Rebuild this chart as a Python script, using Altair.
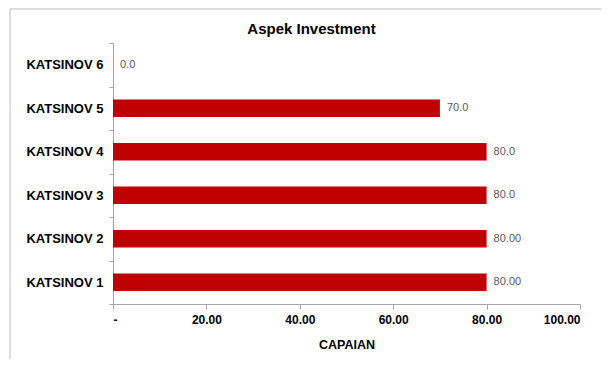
import altair as alt
import pandas as pd

categories = ["KATSINOV 6", "KATSINOV 5", "KATSINOV 4", "KATSINOV 3", "KATSINOV 2", "KATSINOV 1"]
values = [0, 70, 80, 80, 80, 80]
value_labels = ["0.0", "70.0", "80.0", "80.0", "80.00", "80.00"]
tick_values = [0, 20, 40, 60, 80, 100]
tick_labels = ["-", "20.00", "40.00", "60.00", "80.00", "100.00"]

df = pd.DataFrame({"cat": categories, "val": values, "lab": value_labels})

label_expr = " : ".join(
    [f"datum.value == {v} ? '{l}'" for v, l in zip(tick_values, tick_labels)] + ["''"]
)

FONT = "Liberation Sans"

base = alt.Chart(df).encode(
    y=alt.Y(
        "cat:N",
        sort=None,
        scale=alt.Scale(paddingInner=0, paddingOuter=0),
        axis=alt.Axis(
            title=None,
            labelFont=FONT,
            labelFontSize=13,
            labelFontWeight="bold",
            labelColor="#000000",
            labelPadding=6,
            tickSize=4,
            tickBand="extent",
            tickColor="#A6A6A6",
            domainColor="#A6A6A6",
            grid=False,
        ),
    ),
)

bars = base.mark_bar(color="#C00000", height=alt.RelativeBandSize(0.4)).encode(
    x=alt.X(
        "val:Q",
        scale=alt.Scale(domain=[0, 100], nice=False),
        axis=alt.Axis(
            title="CAPAIAN",
            titleFont=FONT,
            titleFontSize=12.5,
            titleFontWeight="bold",
            titleColor="#000000",
            titlePadding=13,
            values=tick_values,
            labelExpr=label_expr,
            labelFont=FONT,
            labelFontSize=12,
            labelFontWeight="bold",
            labelColor="#000000",
            labelPadding=5,
            tickSize=5,
            tickColor="#A6A6A6",
            domainColor="#A6A6A6",
            grid=False,
        ),
    )
)

texts = base.mark_text(
    align="left", baseline="middle", dx=7, font=FONT, fontSize=11, color="#595959"
).encode(x="val:Q", text="lab:N")

frame = alt.Chart(pd.DataFrame({"a": [0]})).mark_rect(
    fill=None, stroke="#BFBFBF", strokeWidth=1
).encode(
    x=alt.value(-103), x2=alt.value(700), y=alt.value(-34), y2=alt.value(500)
)

chart = (
    alt.layer(frame, bars, texts)
    .properties(
        width=467,
        height=261,
        title=alt.TitleParams(
            "Aspek Investment",
            font=FONT,
            fontSize=15,
            fontWeight="bold",
            color="#000000",
            anchor="middle",
            frame="group",
            dx=-35,
            dy=34,
            offset=6,
        ),
        autosize=alt.AutoSizeParams(type="none"),
        padding={"left": 105, "top": 35, "right": 21, "bottom": 55},
    )
    .configure_view(stroke=None)
)

chart.save("out.html", embed_options={"renderer": "svg", "actions": False})
